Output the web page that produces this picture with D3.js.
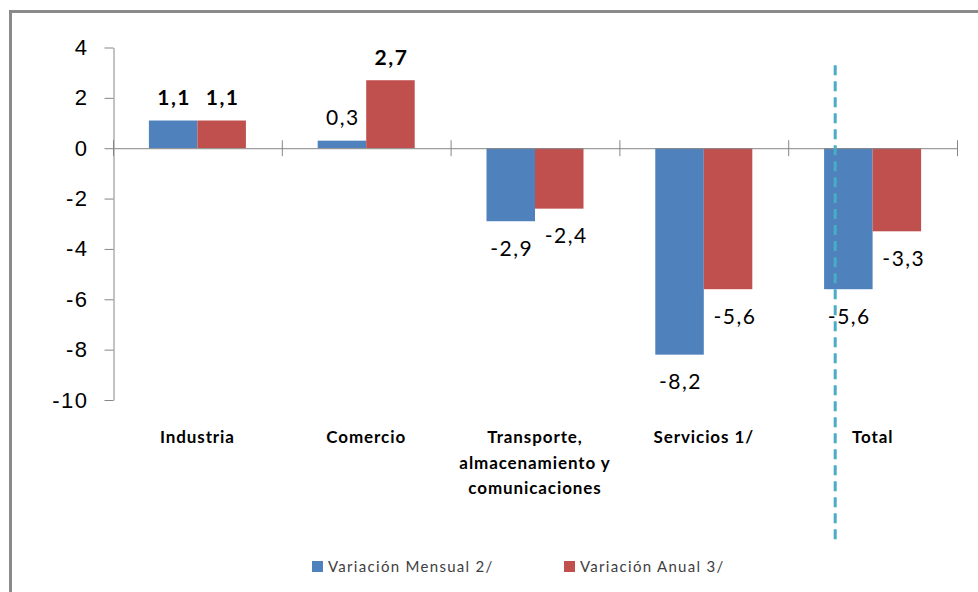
<!DOCTYPE html>
<meta charset="utf-8">
<script src="https://d3js.org/d3.v7.min.js"></script>
<style>
  body { margin: 0; background: #fff; }
  svg { display: block; font-family: Lato, "Noto Sans", sans-serif; }
  .axis path, .axis line { stroke: #868686; }
  .axis text { fill: #000; }
</style>
<body>
<script>

// chart data
var categories = ["Industria", "Comercio", "Transporte, almacenamiento y comunicaciones", "Servicios 1/", "Total"]
var catLines = [["Industria"], ["Comercio"], ["Transporte,", "almacenamiento y", "comunicaciones"], ["Servicios 1/"], ["Total"]]
var series = ["Variación Mensual 2/", "Variación Anual 3/"]
var mensual = [1.1, 0.3, -2.9, -8.2, -5.6]
var anual = [1.1, 2.7, -2.4, -5.6, -3.3]
var yTicks = [4, 2, 0, -2, -4, -6, -8, -10]
var colors = ["#4f81bd", "#c0504d"]

var width = 978, height = 592

var svg = d3.select("body").append("svg")
    .attr("width", width)
    .attr("height", height)

// outer frame (only top and left edges show)
svg.append("path")
    .attr("d", "M10.5,592 V11.5 H978")
    .attr("fill", "none")
    .attr("stroke", "#8a8a8a")
    .attr("stroke-width", 3)

var y = d3.scaleLinear().domain([-10, 4]).range([400, 47.5])
var x0 = d3.scaleBand().domain(categories).range([113, 957])
var x1 = d3.scaleBand().domain(series).range([0, x0.bandwidth()]).paddingOuter(0.74)

// y axis
var yAxis = svg.append("g")
    .attr("class", "axis")
    .attr("transform", "translate(113.5,0)")
    .call(d3.axisLeft(y).tickValues(yTicks).tickSize(9).tickSizeOuter(0).tickPadding(16)
          .tickFormat(function(d) { return String(d) }))
yAxis.selectAll("text").style("font-size", "22px").style("letter-spacing", "1.5px")

// bars
var rows = categories.map(function(c, i) { return [mensual[i], anual[i]] })
var groups = svg.selectAll(".grp").data(rows).enter().append("g")
    .attr("transform", function(d, i) { return "translate(" + x0(categories[i]) + ",0)" })

groups.selectAll("rect").data(function(d) { return d }).enter().append("rect")
    .attr("x", function(d, j) { return x1(series[j]) })
    .attr("width", x1.bandwidth())
    .attr("y", function(d) { return y(Math.max(0, d)) })
    .attr("height", function(d) { return Math.abs(y(d) - y(0)) })
    .attr("fill", function(d, j) { return colors[j] })

// x axis line with cross ticks
var bounds = categories.map(function(c) { return x0(c) }).concat([x0.range()[1]])
svg.append("line")
    .attr("x1", x0.range()[0]).attr("x2", x0.range()[1])
    .attr("y1", y(0) + 0.5).attr("y2", y(0) + 0.5)
    .attr("stroke", "#868686")
svg.selectAll(".xtick").data(bounds).enter().append("line")
    .attr("x1", function(d) { return d + 0.5 }).attr("x2", function(d) { return d + 0.5 })
    .attr("y1", y(0) - 8).attr("y2", y(0) + 8)
    .attr("stroke", "#868686")

// data labels
groups.selectAll(".lbl").data(function(d) { return d }).enter().append("text")
    .attr("x", function(d, j) { return x1(series[j]) + x1.bandwidth() / 2 + (d < 0 && j == 1 ? 6 : 0) + 1 })
    .attr("y", function(d) { return d >= 0 ? y(d) - 23 : y(d) + 27 })
    .attr("dy", "0.35em")
    .attr("text-anchor", "middle")
    .style("font-size", "21px")
    .style("letter-spacing", "1.5px")
    .style("font-weight", function(d, j) { return d >= 1 ? "bold" : "normal" })
    .text(function(d) { return String(d).replace(".", ",") })

// category labels
svg.selectAll(".cat").data(catLines).enter().append("text")
    .attr("x", function(d, i) { return x0(categories[i]) + x0.bandwidth() / 2 })
    .attr("y", 443)
    .attr("text-anchor", "middle")
    .style("font-size", "17px")
    .style("letter-spacing", "0.9px")
    .style("font-weight", "bold")
    .selectAll("tspan").data(function(d) { return d }).enter().append("tspan")
    .attr("x", function() { return d3.select(this.parentNode).attr("x") })
    .attr("dy", function(d, k) { return k == 0 ? 0 : 25.5 })
    .text(function(d) { return d })

// dashed marker line near Total
svg.append("line")
    .attr("x1", x0("Total") + 47).attr("x2", x0("Total") + 47)
    .attr("y1", y(3.3)).attr("y2", 542)
    .attr("stroke", "#4bacc6")
    .attr("stroke-width", 3)
    .attr("stroke-dasharray", "10 6")

// legend
var legendX = [312, 564]
var legend = svg.selectAll(".leg").data(series).enter().append("g")
    .attr("transform", function(d, i) { return "translate(" + legendX[i] + ",561)" })
legend.append("rect").attr("width", 11).attr("height", 11)
    .attr("fill", function(d, i) { return colors[i] })
legend.append("text")
    .attr("x", 16).attr("y", 6).attr("dy", "0.35em")
    .style("font-size", "15px")
    .style("letter-spacing", "1.3px")
    .attr("fill", "#404040")
    .text(function(d) { return d })

</script>
</body>
